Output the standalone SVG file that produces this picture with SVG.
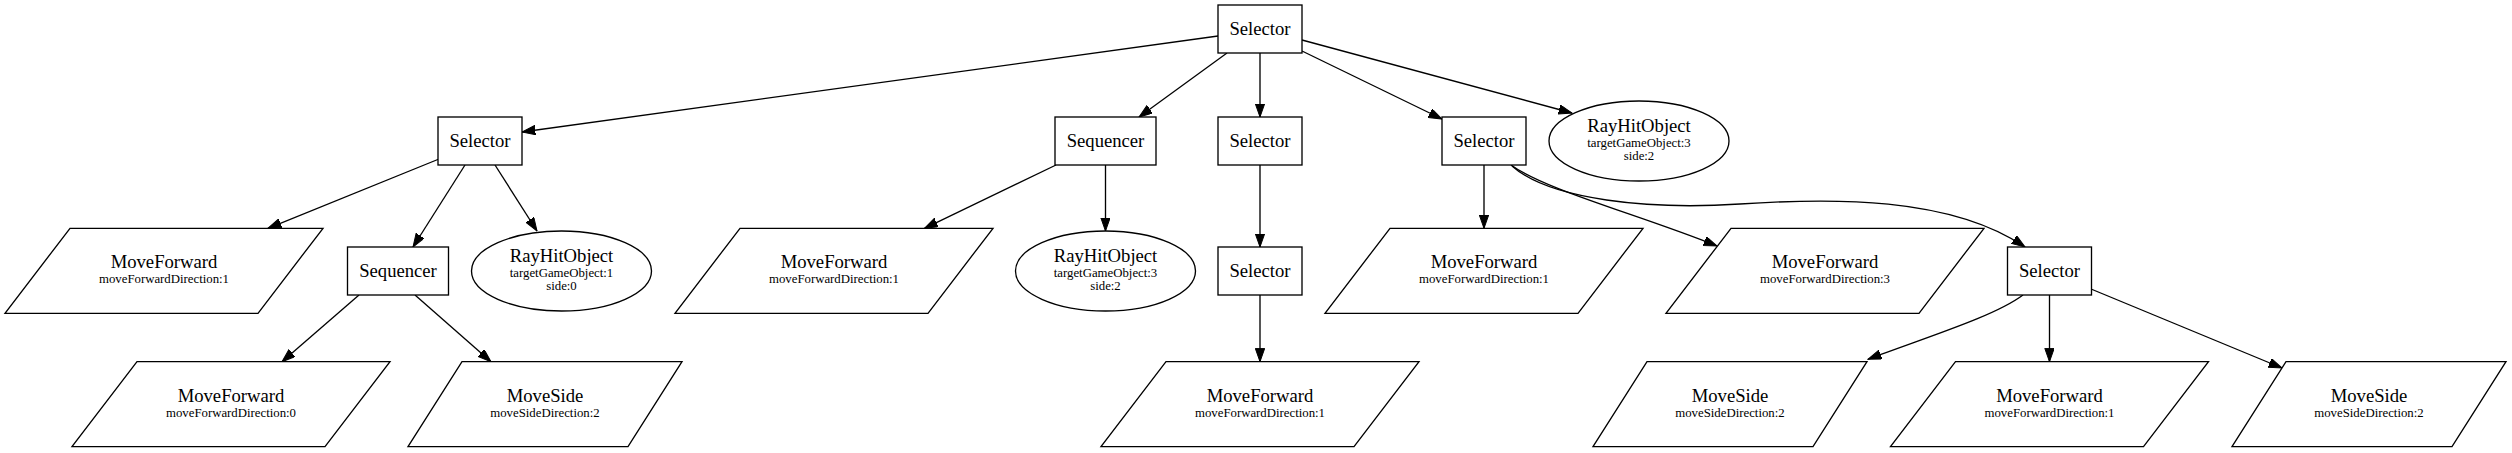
<svg xmlns="http://www.w3.org/2000/svg" width="2512" height="453" viewBox="0 0 2512 453">
<style>
.nd{fill:#fff;stroke:#000;stroke-width:1.33}
.t{font-family:"Liberation Serif","Times New Roman",serif;font-size:18.67px;text-anchor:middle;fill:#000}
.s{font-family:"Liberation Serif","Times New Roman",serif;font-size:12.8px;text-anchor:middle;fill:#000}
.e{fill:none;stroke:#000;stroke-width:1.33;marker-end:url(#ah)}
</style>
<defs>
<marker id="ah" markerUnits="userSpaceOnUse" markerWidth="14" markerHeight="10" refX="13.3" refY="4.7" orient="auto" viewBox="0 0 14 10">
<path d="M0,0 L13.3,4.7 L0,9.4 z" fill="#000" stroke="#000" stroke-width="1"/>
</marker>
</defs>
<rect width="2512" height="453" fill="#fff"/>
<g id="edges">
<path class="e" d="M1218,36 L522,132"/>
<path class="e" d="M1227,53 L1139,117"/>
<path class="e" d="M1260,53 L1260,117"/>
<path class="e" d="M1302,51 L1442,119"/>
<path class="e" d="M1302,40 L1572,113"/>
<path class="e" d="M439,159 L268,228.3"/>
<path class="e" d="M465,165 L413,247"/>
<path class="e" d="M495,165 L537,231"/>
<path class="e" d="M359,295 L282,361.7"/>
<path class="e" d="M415,295 L491,361.7"/>
<path class="e" d="M1056,165 L924.5,228.3"/>
<path class="e" d="M1105.5,165 L1105.5,231"/>
<path class="e" d="M1260,165 L1260,247"/>
<path class="e" d="M1260,295 L1260,361.7"/>
<path class="e" d="M1484,165 L1484,228.3"/>
<path class="e" d="M1511,165 C1545,190 1640,215 1717,246"/>
<path class="e" d="M1512,166 C1550,200 1650,210 1740,204 C1830,198 1950,196 2025,247"/>
<path class="e" d="M2023,295 C1995,316 1930,336 1868,359.3"/>
<path class="e" d="M2049.5,295 L2049.5,361.7"/>
<path class="e" d="M2091,289 L2282,368"/>
</g>
<g id="n0"><rect class="nd" x="1218" y="5" width="84" height="48"/><text class="t" x="1260" y="34.5">Selector</text></g>
<g id="n1"><rect class="nd" x="438" y="117" width="84" height="48"/><text class="t" x="480" y="146.5">Selector</text></g>
<g id="n2"><rect class="nd" x="1055" y="117" width="101" height="48"/><text class="t" x="1105.5" y="146.5">Sequencer</text></g>
<g id="n3"><rect class="nd" x="1218" y="117" width="84" height="48"/><text class="t" x="1260" y="146.5">Selector</text></g>
<g id="n4"><rect class="nd" x="1442" y="117" width="84" height="48"/><text class="t" x="1484" y="146.5">Selector</text></g>
<g id="n5"><ellipse class="nd" cx="1639" cy="141" rx="90" ry="40"/><text class="t" x="1639" y="132">RayHitObject</text><text class="s" x="1639" y="147">targetGameObject:3</text><text class="s" x="1639" y="159.5">side:2</text></g>
<g id="n6"><polygon class="nd" points="70,228.3 323,228.3 258,313.3 5,313.3"/><text class="t" x="164" y="268.3">MoveForward</text><text class="s" x="164" y="283.3">moveForwardDirection:1</text></g>
<g id="n7"><rect class="nd" x="347.5" y="247" width="101" height="48"/><text class="t" x="398" y="276.5">Sequencer</text></g>
<g id="n8"><ellipse class="nd" cx="561.5" cy="271" rx="90" ry="40"/><text class="t" x="561.5" y="262">RayHitObject</text><text class="s" x="561.5" y="277">targetGameObject:1</text><text class="s" x="561.5" y="289.5">side:0</text></g>
<g id="n9"><polygon class="nd" points="740,228.3 993,228.3 928,313.3 675,313.3"/><text class="t" x="834" y="268.3">MoveForward</text><text class="s" x="834" y="283.3">moveForwardDirection:1</text></g>
<g id="n10"><ellipse class="nd" cx="1105.5" cy="271" rx="90" ry="40"/><text class="t" x="1105.5" y="262">RayHitObject</text><text class="s" x="1105.5" y="277">targetGameObject:3</text><text class="s" x="1105.5" y="289.5">side:2</text></g>
<g id="n11"><rect class="nd" x="1218" y="247" width="84" height="48"/><text class="t" x="1260" y="276.5">Selector</text></g>
<g id="n12"><polygon class="nd" points="1390,228.3 1643,228.3 1578,313.3 1325,313.3"/><text class="t" x="1484" y="268.3">MoveForward</text><text class="s" x="1484" y="283.3">moveForwardDirection:1</text></g>
<g id="n13"><polygon class="nd" points="1731,228.3 1984,228.3 1919,313.3 1666,313.3"/><text class="t" x="1825" y="268.3">MoveForward</text><text class="s" x="1825" y="283.3">moveForwardDirection:3</text></g>
<g id="n14"><rect class="nd" x="2007.5" y="247" width="84" height="48"/><text class="t" x="2049.5" y="276.5">Selector</text></g>
<g id="n15"><polygon class="nd" points="137,361.7 390,361.7 325,446.7 72,446.7"/><text class="t" x="231" y="401.7">MoveForward</text><text class="s" x="231" y="416.7">moveForwardDirection:0</text></g>
<g id="n16"><polygon class="nd" points="462,361.7 682,361.7 628,446.7 408,446.7"/><text class="t" x="545" y="401.7">MoveSide</text><text class="s" x="545" y="416.7">moveSideDirection:2</text></g>
<g id="n17"><polygon class="nd" points="1166,361.7 1419,361.7 1354,446.7 1101,446.7"/><text class="t" x="1260" y="401.7">MoveForward</text><text class="s" x="1260" y="416.7">moveForwardDirection:1</text></g>
<g id="n18"><polygon class="nd" points="1647,361.7 1867,361.7 1813,446.7 1593,446.7"/><text class="t" x="1730" y="401.7">MoveSide</text><text class="s" x="1730" y="416.7">moveSideDirection:2</text></g>
<g id="n19"><polygon class="nd" points="1955.5,361.7 2208.5,361.7 2143.5,446.7 1890.5,446.7"/><text class="t" x="2049.5" y="401.7">MoveForward</text><text class="s" x="2049.5" y="416.7">moveForwardDirection:1</text></g>
<g id="n20"><polygon class="nd" points="2286,361.7 2506,361.7 2452,446.7 2232,446.7"/><text class="t" x="2369" y="401.7">MoveSide</text><text class="s" x="2369" y="416.7">moveSideDirection:2</text></g>
</svg>
